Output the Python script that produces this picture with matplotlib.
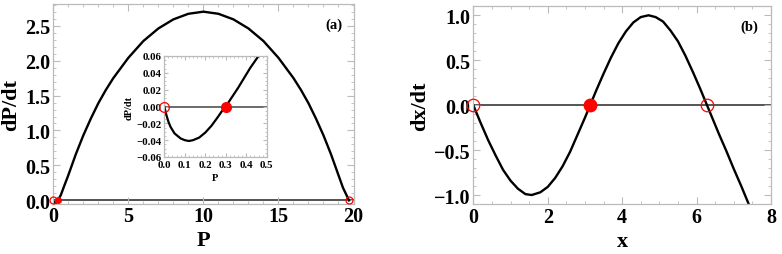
import matplotlib
matplotlib.use("Agg")
import matplotlib.pyplot as plt
from matplotlib.ticker import MultipleLocator

plt.rcParams['font.family'] = ['Liberation Serif', 'DejaVu Serif']
plt.rcParams['font.weight'] = 'bold'
plt.rcParams['mathtext.default'] = 'regular'

# ---- Panel (a): dP/dt vs P (main) ----
P_main = [0.0, 0.05, 0.12, 0.2, 0.3, 0.5, 0.75, 1.0, 1.5, 2.0, 2.5, 3.0, 3.5, 4.0, 5.0, 6.0,
          7.0, 8.0, 9.0, 10.0, 11.0, 12.0, 13.0, 14.0, 15.0, 16.0, 16.5, 17.0, 17.5,
          18.0, 18.5, 19.0, 19.3, 19.7]
dP_main = [0.0, -0.033, -0.041, -0.031, 0.0, 0.075, 0.22, 0.36, 0.66, 0.93, 1.17, 1.39, 1.58,
           1.75, 2.04, 2.28, 2.46, 2.59, 2.67, 2.70, 2.67, 2.59, 2.46, 2.28, 2.04, 1.75,
           1.58, 1.39, 1.17, 0.93, 0.66, 0.36, 0.18, 0.0]

# inset: zoom near P = 0
P_in = [0.0, 0.01, 0.02, 0.03, 0.05, 0.08, 0.10, 0.12, 0.14, 0.17, 0.20, 0.23, 0.26,
        0.28, 0.30, 0.33, 0.36, 0.39, 0.42, 0.46]
dP_in = [0.0, -0.010, -0.018, -0.024, -0.032, -0.038, -0.040, -0.041, -0.040, -0.037,
         -0.031, -0.023, -0.013, -0.006, 0.0, 0.011, 0.022, 0.034, 0.046, 0.060]

eq_a_stable = [0.3]
eq_a_unstable = [0.0, 19.7]

# ---- Panel (b): dx/dt vs x ----
x_b = [0.0, 0.2, 0.4, 0.6, 0.8, 1.0, 1.2, 1.4, 1.57, 1.8, 2.0, 2.2, 2.4, 2.6, 2.8, 3.0,
       3.14, 3.3, 3.5, 3.7, 3.9, 4.1, 4.3, 4.5, 4.71, 4.9, 5.1, 5.3, 5.5, 5.7, 5.9,
       6.1, 6.28, 6.45, 6.6, 6.8, 7.0, 7.2, 7.4]
dx_b = [0.0, -0.20, -0.39, -0.56, -0.72, -0.84, -0.93, -0.99, -1.0, -0.97, -0.91, -0.81,
        -0.68, -0.52, -0.33, -0.14, 0.0, 0.16, 0.35, 0.53, 0.69, 0.82, 0.92, 0.98, 1.0,
        0.98, 0.93, 0.83, 0.71, 0.55, 0.37, 0.18, 0.0, -0.17, -0.32, -0.51, -0.71,
        -0.90, -1.10]

eq_b_stable = [3.1416]
eq_b_unstable = [0.0, 6.2832]

W, H = 782, 255
fig = plt.figure(figsize=(W / 100, H / 100), dpi=100)

frame_col = '#bbbbbb'
tick_fs = 14.5
lab_fs = 16


def style(ax, fs, maj_len=5, min_len=2.5):
    for s in ax.spines.values():
        s.set_color(frame_col)
        s.set_linewidth(0.9)
    ax.tick_params(which='both', direction='in', top=True, right=True,
                   color=frame_col, labelsize=fs, pad=2)
    ax.tick_params(which='major', length=maj_len, width=0.8)
    ax.tick_params(which='minor', length=min_len, width=0.6)
    for lab in ax.get_xticklabels() + ax.get_yticklabels():
        lab.set_fontweight('bold')


def fmt_minus(v, pos=None, nd=1):
    s = f"{v:.{nd}f}"
    if s.startswith('-'):
        s = '\u2212' + s[1:]
    if s in ('\u22120.0', '\u22120.00'):
        s = s[1:]
    return s


# Panel (a)
axa = fig.add_axes([53.3 / W, 1 - 204.5 / H, 300.2 / W, 199.5 / H])
axa.axhline(0, color='#444444', lw=1.3, zorder=1)
axa.plot(P_main, dP_main, color='black', lw=1.7, zorder=2)
axa.plot(eq_a_stable, [0] * len(eq_a_stable), 'o', color='red', ms=4, zorder=3, clip_on=False)
axa.plot(eq_a_unstable, [0] * len(eq_a_unstable), 'o', mfc='none', mec='red', mew=0.9,
         ms=5, zorder=3, clip_on=False)
axa.set_xlim(0, 20)
axa.set_ylim(-0.045, 2.81)
axa.xaxis.set_major_locator(MultipleLocator(5))
axa.xaxis.set_minor_locator(MultipleLocator(1))
axa.yaxis.set_major_locator(MultipleLocator(0.5))
axa.yaxis.set_minor_locator(MultipleLocator(0.1))
axa.yaxis.set_major_formatter(lambda v, p: fmt_minus(v, p, 1))
axa.xaxis.set_major_formatter(lambda v, p: f"{v:.0f}")
style(axa, tick_fs)
axa.set_xlabel('P', fontsize=lab_fs, fontweight='bold', labelpad=3)
axa.set_ylabel('dP/dt', fontsize=lab_fs, fontweight='bold', labelpad=3)
axa.text(0.935, 0.90, '(a)', transform=axa.transAxes, ha='center', va='center',
         fontsize=10.5, fontweight='bold')

# Inset
axi = fig.add_axes([164.3 / W, 1 - 158 / H, 102.4 / W, 101 / H])
axi.axhline(0, color='#444444', lw=1.1, zorder=1)
axi.plot(P_in, dP_in, color='black', lw=1.6, zorder=2)
axi.plot(eq_a_stable, [0] * len(eq_a_stable), 'o', color='red', ms=7, zorder=3, clip_on=False)
axi.plot([eq_a_unstable[0]], [0], 'o', mfc='none', mec='red', mew=0.9, ms=7, zorder=3,
         clip_on=False)
axi.set_xlim(0, 0.5)
axi.set_ylim(-0.06, 0.06)
axi.xaxis.set_major_locator(MultipleLocator(0.1))
axi.xaxis.set_minor_locator(MultipleLocator(0.02))
axi.yaxis.set_major_locator(MultipleLocator(0.02))
axi.yaxis.set_minor_locator(MultipleLocator(0.005))
axi.yaxis.set_major_formatter(lambda v, p: fmt_minus(v, p, 2))
axi.xaxis.set_major_formatter(lambda v, p: f"{v:.1f}")
style(axi, 7.8, maj_len=3, min_len=1.5)
axi.set_xlabel('P', fontsize=7.5, fontweight='bold', labelpad=3)
axi.set_ylabel('dP/dt', fontsize=7.5, fontweight='bold', labelpad=2)

# Panel (b)
axb = fig.add_axes([473.3 / W, 1 - 205 / H, 297.7 / W, 197.7 / H])
axb.axhline(0, color='#555555', lw=1.4, zorder=1)
axb.plot(x_b, dx_b, color='black', lw=1.7, zorder=2)
axb.plot(eq_b_stable, [0] * len(eq_b_stable), 'o', color='red', ms=9, zorder=3, clip_on=False)
axb.plot(eq_b_unstable, [0] * len(eq_b_unstable), 'o', mfc='none', mec='red', mew=0.9,
         ms=9, zorder=3, clip_on=False)
axb.set_xlim(0, 8)
axb.set_ylim(-1.1, 1.1)
axb.xaxis.set_major_locator(MultipleLocator(2))
axb.xaxis.set_minor_locator(MultipleLocator(0.5))
axb.yaxis.set_major_locator(MultipleLocator(0.5))
axb.yaxis.set_minor_locator(MultipleLocator(0.1))
axb.yaxis.set_major_formatter(lambda v, p: fmt_minus(v, p, 1))
axb.xaxis.set_major_formatter(lambda v, p: f"{v:.0f}")
style(axb, tick_fs)
axb.set_xlabel('x', fontsize=lab_fs, fontweight='bold', labelpad=3)
axb.set_ylabel('dx/dt', fontsize=lab_fs, fontweight='bold', labelpad=3)
axb.text(0.926, 0.90, '(b)', transform=axb.transAxes, ha='center', va='center',
         fontsize=10.5, fontweight='bold')

fig.savefig('out.png', dpi=100)
